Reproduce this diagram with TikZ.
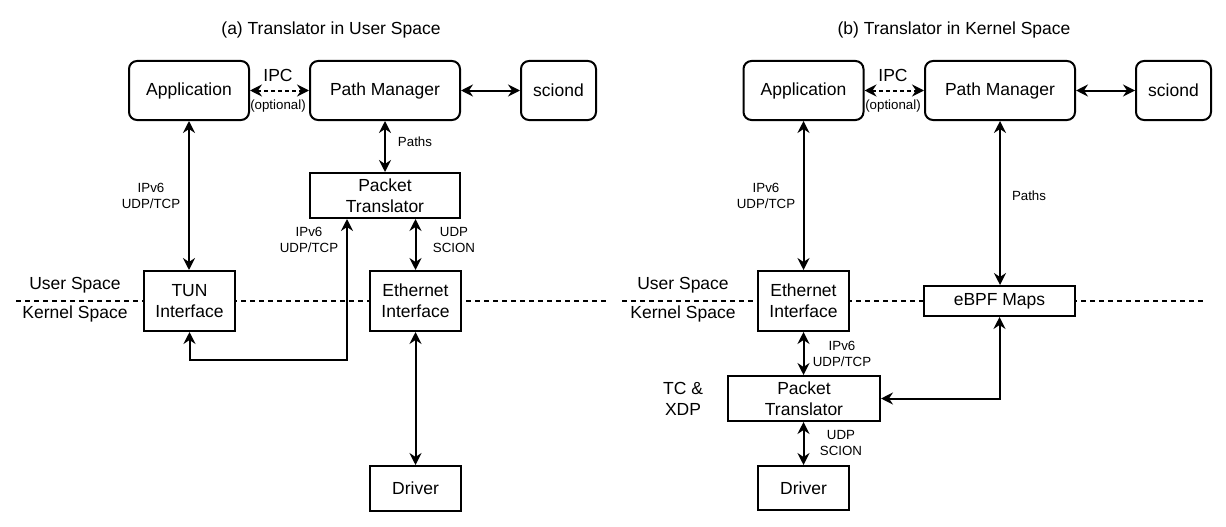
\documentclass[tikz,border=0pt]{standalone}
\usepackage{fontspec}
\setmainfont{Liberation Sans}
\usetikzlibrary{arrows.meta}
\tikzset{
  big/.style={font=\fontsize{17.5}{21}\selectfont},
  small/.style={font=\fontsize{13.3}{16}\selectfont, align=center, inner sep=0pt},
  rbox/.style={draw, line width=2pt, fill=white, rounded corners=8pt, big, align=center, inner sep=0pt},
  sbox/.style={draw, line width=2pt, fill=white, big, align=center, inner sep=0pt},
  conn/.style={line width=2pt, <->},
  sep/.style={line width=1.6pt, dash pattern=on 4.5pt off 4.5pt},
  >={Stealth[length=12pt,width=12pt,inset=4pt]}
}
\begin{document}
\begin{tikzpicture}[x=1pt,y=-1pt]
\useasboundingbox (0,0) rectangle (1226,527);

% ---------- separators ----------
\coordinate (sepAl) at (16,301);
\coordinate (sepAr) at (610,301);
\coordinate (sepBl) at (622,301);
\coordinate (sepBr) at (1207,301);
\draw[sep] (sepAl) -- (sepAr);
\draw[sep] (sepBl) -- (sepBr);

% ---------- (a) ----------
\node[big] (titleA) at (331,30) {(a) Translator in User Space};
\node[rbox, minimum width=120pt, minimum height=59pt] (appA) at (189,90.5) {Application};
\node[rbox, minimum width=150pt, minimum height=59pt] (pmA) at (385,90.5) {Path Manager};
\node[rbox, minimum width=75pt, minimum height=59pt] (sciA) at (558.5,90.5) {sciond};
\node[sbox, minimum width=150pt, minimum height=45pt] (ptA) at (385,195.5) {Packet\\Translator};
\node[sbox, minimum width=91pt, minimum height=60pt] (tunA) at (189.5,301) {TUN\\Interface};
\node[sbox, minimum width=91pt, minimum height=60pt] (ethA) at (415.5,301) {Ethernet\\Interface};
\node[sbox, minimum width=91pt, minimum height=45pt] (drvA) at (415.5,488.5) {Driver};

\node[big] (ipcA) at (278,75) {IPC};
\node[small] (optA) at (278,106) {(optional)};
\node[small] (pathsA) at (415,142) {Paths};
\node[small] (l1A) at (151,196) {IPv6\\UDP/TCP};
\node[small] (l2A) at (309,240) {IPv6\\UDP/TCP};
\node[small] (l3A) at (454,240) {UDP\\SCION};
\node[big] (usA) at (75,285) {User Space};
\node[big] (ksA) at (75,314) {Kernel Space};

\draw[conn, dash pattern=on 4pt off 3pt] (appA.east) -- (pmA.west);
\draw[conn] (pmA.east) -- (sciA.west);
\draw[conn] (pmA.south) -- (ptA.north);
\draw[conn] (appA.south) -- (appA.south |- tunA.north);
\draw[conn] (ethA.north) -- (ethA.north |- ptA.south);
\draw[conn] (ethA.south) -- (drvA.north);
\coordinate (loopA) at (347,360);
\draw[conn] (tunA.south) |- (loopA) -- (loopA |- ptA.south);

% ---------- (b) ----------
\node[big] (titleB) at (954,30) {(b) Translator in Kernel Space};
\node[rbox, minimum width=120pt, minimum height=59pt] (appB) at (803.5,90.5) {Application};
\node[rbox, minimum width=150pt, minimum height=59pt] (pmB) at (1000,90.5) {Path Manager};
\node[rbox, minimum width=75pt, minimum height=59pt] (sciB) at (1173.5,90.5) {sciond};
\node[sbox, minimum width=91pt, minimum height=60pt] (ethB) at (803.5,301) {Ethernet\\Interface};
\node[sbox, minimum width=151pt, minimum height=30pt] (ebpf) at (999.5,301) {eBPF Maps};
\node[sbox, minimum width=152pt, minimum height=45pt] (ptB) at (804,398.5) {Packet\\Translator};
\node[sbox, minimum width=91pt, minimum height=44pt] (drvB) at (803.5,488) {Driver};

\node[big] (ipcB) at (893,75) {IPC};
\node[small] (optB) at (893,106) {(optional)};
\node[small] (pathsB) at (1029,196) {Paths};
\node[small] (l1B) at (766,196) {IPv6\\UDP/TCP};
\node[small] (l2B) at (842,353.5) {IPv6\\UDP/TCP};
\node[small] (l3B) at (841,442.5) {UDP\\SCION};
\node[big] (usB) at (683,285) {User Space};
\node[big] (ksB) at (683,314) {Kernel Space};
\node[big, align=center, inner sep=0pt] (tcB) at (683,398.5) {TC \&\\XDP};

\draw[conn, dash pattern=on 4pt off 3pt] (appB.east) -- (pmB.west);
\draw[conn] (pmB.east) -- (sciB.west);
\draw[conn] (appB.south) -- (appB.south |- ethB.north);
\draw[conn] (pmB.south) -- (pmB.south |- ebpf.north);
\draw[conn] (ethB.south) -- (ethB.south |- ptB.north);
\draw[conn] (ptB.south -| drvB.north) -- (drvB.north);
\draw[conn] (ebpf.south) |- (ptB.east);
\end{tikzpicture}
\end{document}
